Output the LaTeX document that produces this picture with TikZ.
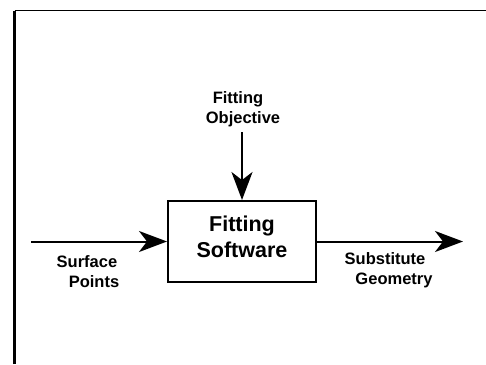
\documentclass[tikz,border=0pt]{standalone}
\usepackage{fontspec}
\setmainfont{Liberation Sans}
\usetikzlibrary{arrows.meta}
\begin{document}
\begin{tikzpicture}[x=1pt,y=-1pt,
  lbl/.style={font=\bfseries\fontsize{16.5}{19.5}\selectfont, align=center, inner sep=0pt, anchor=base},
  boxnode/.style={draw, line width=2pt, minimum width=148pt, minimum height=81pt, inner sep=0pt,
    font=\bfseries\fontsize{21.5}{26}\selectfont, align=center},
  arr/.style={line width=2pt, -{Stealth[length=28pt,width=21pt,inset=8pt]}},
  frame/.style={line width=2.4pt}]
\useasboundingbox (0,0) rectangle (486,364);
\draw[frame] (14.5,364) -- (14.5,10.5);
\draw[line width=1.4pt] (14.5,10.5) -- (486,10.5);
\node[boxnode] (sw) at (242,241.5) {Fitting\\Software\rule[-9pt]{0pt}{9pt}};
\node[lbl] (obj) at (243,123) {Fitting\hspace*{10pt}\\Objective};
\node[lbl] (sp) at (90,287) {Surface\hspace*{6pt}\\\hspace*{8pt}Points};
\node[lbl] (sg) at (389,284) {Substitute\hspace*{8pt}\\\hspace*{10pt}Geometry};
\coordinate (objtop) at (242,132);
\coordinate (inl) at (31,241.5);
\coordinate (outr) at (463,241.5);
\draw[arr] (objtop) -- (sw.north);
\draw[arr] (inl) -- (sw.west);
\draw[arr] (sw.east) -- (outr);
\end{tikzpicture}
\end{document}
